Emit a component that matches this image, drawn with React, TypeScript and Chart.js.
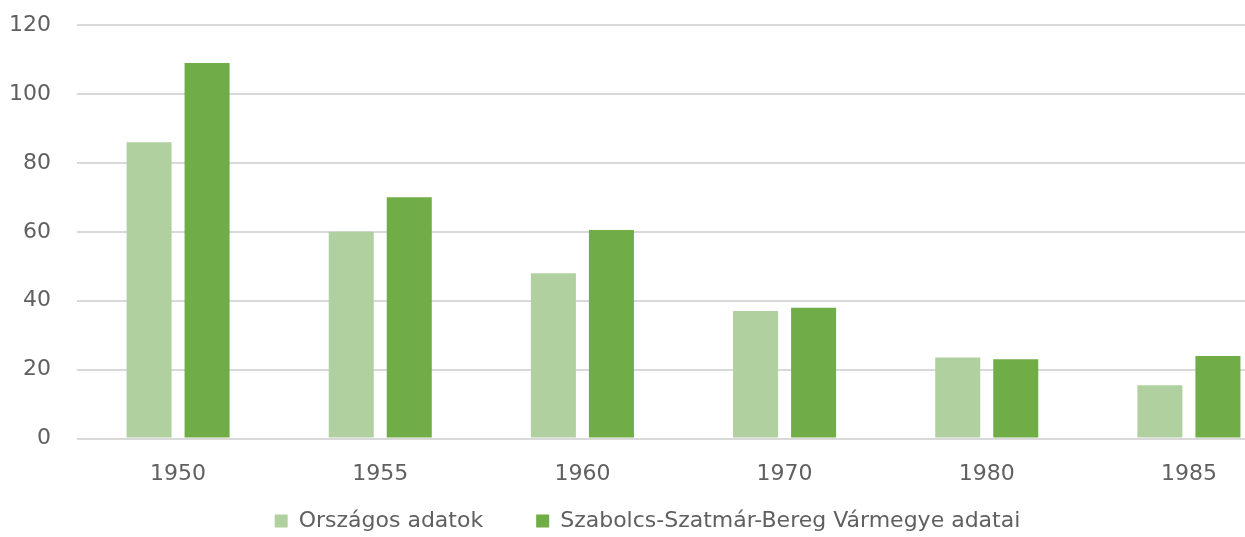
import React, { useEffect, useRef } from "react";
import { Chart, registerables } from "chart.js";

Chart.register(...registerables);

const categories = ["1950", "1955", "1960", "1970", "1980", "1985"];
const seriesNames = ["Országos adatok", "Szabolcs-Szatmár-Bereg Vármegye adatai"];
const orszagos = [86, 60, 48, 37, 23.5, 15.5];
const szabolcs = [109, 70, 60.5, 38, 23, 24];
const yTicks = [0, 20, 40, 60, 80, 100, 120];

export default function App() {
  const ref = useRef<HTMLCanvasElement | null>(null);
  useEffect(() => {
    if (!ref.current) return;
    const family = "'DejaVu Sans', 'Open Sans', sans-serif";
    const font = { family, size: 22 };
    const chart = new Chart(ref.current, {
      type: "bar",
      data: {
        labels: categories,
        datasets: [
          { label: seriesNames[0], data: orszagos, backgroundColor: "#b1d0a0" },
          { label: seriesNames[1], data: szabolcs, backgroundColor: "#70ad47" },
        ],
      },
      options: {
        animation: false,
        responsive: false,
        maintainAspectRatio: false,
        layout: { padding: { top: 25, left: 5, right: 2, bottom: -5 } },
        datasets: { bar: { categoryPercentage: 0.574, barPercentage: 0.776 } },
        scales: {
          x: {
            grid: { display: false },
            border: { display: false },
            ticks: { color: "#606060", font, padding: 14 },
          },
          y: {
            min: 0,
            max: 120,
            afterBuildTicks: (axis: any) => {
              axis.ticks = yTicks.map((v) => ({ value: v }));
            },
            afterFit: (axis: any) => {
              axis.paddingTop = 0;
              axis.paddingBottom = 0;
              axis.width = axis.width - 22;
            },
            grid: { color: "#d9d9d9", lineWidth: 2, drawTicks: false },
            border: { display: false },
            ticks: { color: "#606060", font, padding: 26 },
          },
        },
        plugins: {
          legend: {
            position: "bottom",
            labels: {
              color: "#606060",
              font: { family, size: 22 },
              boxWidth: 13,
              boxHeight: 13,
              padding: 9,
              generateLabels: (c: any) => {
                const items = Chart.defaults.plugins.legend.labels.generateLabels(c);
                if (items[0]) items[0].text = items[0].text + "\u2002\u2002\u2002\u2002";
                return items;
              },
            },
          },
          tooltip: { enabled: false },
        },
      },
    });
    return () => chart.destroy();
  }, []);
  return (
    <div style={{ position: "fixed", left: 0, top: 0, width: 1245, height: 537, overflow: "hidden", background: "#fff" }}>
      <canvas ref={ref} width={1292} height={537} style={{ display: "block" }} />
    </div>
  );
}
